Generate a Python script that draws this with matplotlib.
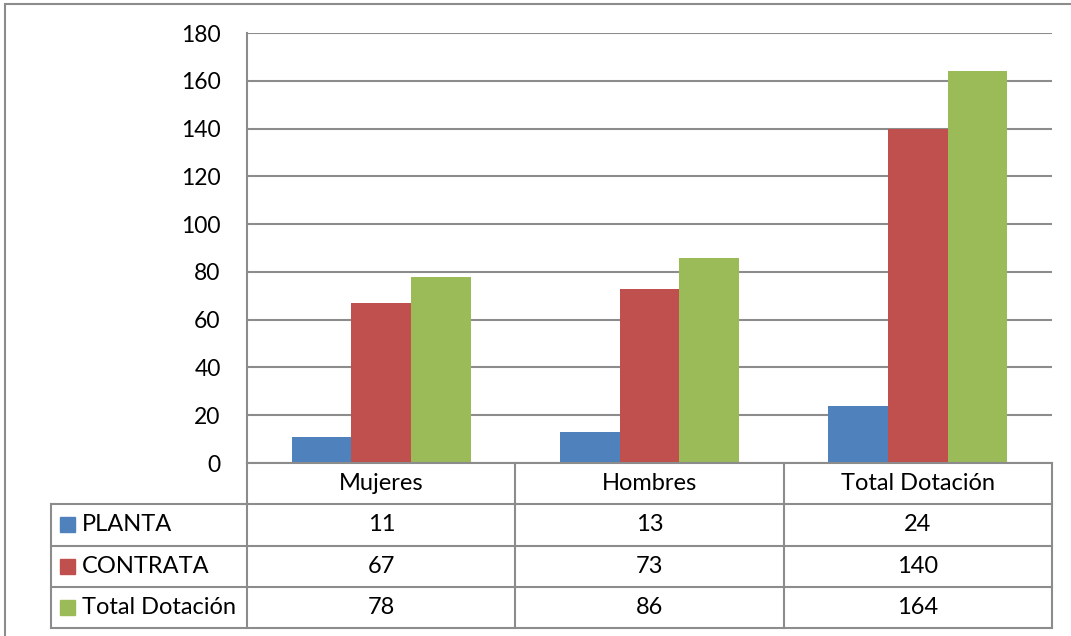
import matplotlib.pyplot as plt
from matplotlib.patches import Rectangle
import numpy as np

plt.rcParams['font.family'] = ['Lato', 'DejaVu Sans']

categorias = ['Mujeres', 'Hombres', 'Total Dotación']
series = ['PLANTA', 'CONTRATA', 'Total Dotación']
planta = [11, 13, 24]
contrata = [67, 73, 140]
total = [78, 86, 164]
colores = ['#4F81BD', '#C0504D', '#9BBB59']
valores = [planta, contrata, total]

W, H = 1071, 636
fig = plt.figure(figsize=(W / 100, H / 100), dpi=100)
gris = '#8C8C8C'

def rect(x0, y0, x1, y1):
    # pixel box (top-left origin) -> figure fraction
    return [x0 / W, 1 - y1 / H, (x1 - x0) / W, (y1 - y0) / H]

# marco exterior
fig.add_artist(Rectangle((5 / W, -0.1), 1.2, 1 - 4 / H + 0.1, transform=fig.transFigure,
                         fill=False, edgecolor=gris, lw=1.5))

ax = fig.add_axes(rect(247, 33, 1052, 463))
x = np.arange(len(categorias))
ancho = 0.222
for i, (s, v) in enumerate(zip(series, valores)):
    ax.bar(x + (i - 1) * ancho, v, ancho, color=colores[i], label=s, zorder=3)

ax.set_xlim(-0.5, 2.5)
ax.set_ylim(0, 180)
ax.set_yticks(range(0, 181, 20))
ax.tick_params(axis='y', length=0, pad=19, labelsize=16.5)
ax.set_xticks([])
ax.grid(axis='y', color=gris, lw=1.5, zorder=0)
for sp in ['top', 'right', 'bottom']:
    ax.spines[sp].set_visible(False)
ax.spines['left'].set_color(gris)
ax.spines['left'].set_linewidth(1.5)

# tabla de datos
leg = 196 / 268
tb = fig.add_axes(rect(51, 463, 1052, 628))
tb.set_xlim(-0.5 - leg, 2.5)
tb.set_ylim(4, 0)
tb.axis('off')
kw = dict(color=gris, lw=1.5, clip_on=False)
tb.plot([-0.5, 2.5], [0, 0], **kw)
for r in range(1, 5):
    tb.plot([-0.5 - leg, 2.5], [r, r], **kw)
tb.plot([-0.5 - leg, -0.5 - leg], [1, 4], **kw)
for c in [-0.5, 0.5, 1.5, 2.5]:
    tb.plot([c, c], [0, 4], **kw)

fs = 17
for j, cat in enumerate(categorias):
    tb.text(j, 0.5, cat, ha='center', va='center', fontsize=fs)
for i, (s, v) in enumerate(zip(series, valores)):
    yc = i + 1.5
    tb.add_patch(Rectangle((-0.5 - leg + 9 / 268, yc - 0.18), 15 / 268, 0.36,
                           color=colores[i], clip_on=False))
    tb.text(-0.5 - leg + 31 / 268, yc, s, ha='left', va='center', fontsize=fs)
    for j, val in enumerate(v):
        tb.text(j, yc, str(val), ha='center', va='center', fontsize=fs)

fig.savefig('out.png', dpi=100)
